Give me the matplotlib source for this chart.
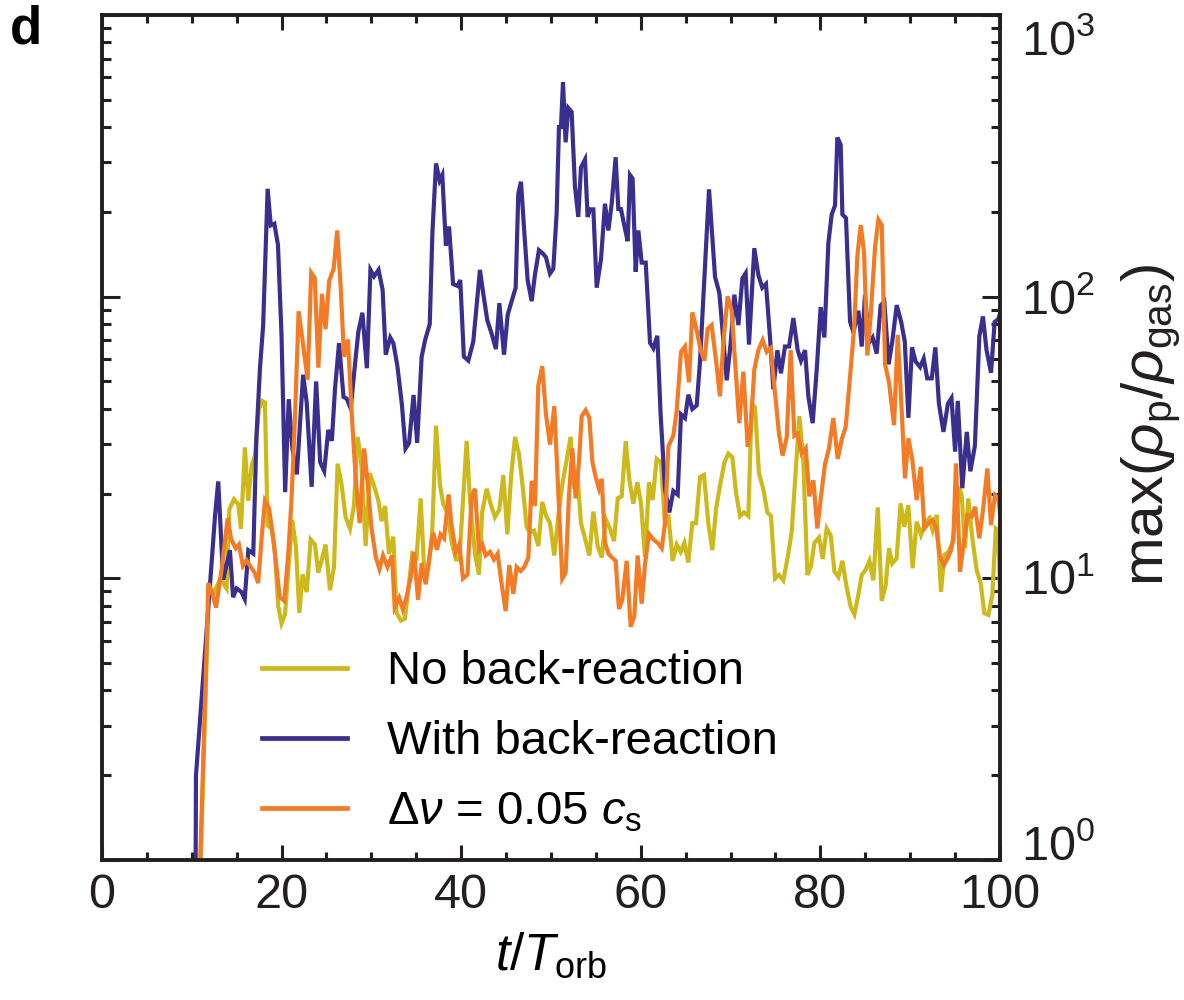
import numpy as np
import matplotlib.pyplot as plt
from matplotlib.ticker import MultipleLocator, LogLocator, NullFormatter

plt.rcParams['font.family'] = ['Liberation Sans', 'DejaVu Sans']
plt.rcParams['mathtext.fontset'] = 'custom'
plt.rcParams['mathtext.rm'] = 'Liberation Sans'
plt.rcParams['mathtext.it'] = 'Liberation Sans:italic'
plt.rcParams['mathtext.bf'] = 'Liberation Sans:bold'

# datos: tiempo (t/T_orb) y log10 de max(rho_p/rho_gas)
t_no_br = [10.9, 11.9, 12.5, 13.2, 13.62, 13.88, 14.18, 14.70, 15.18, 15.48, 15.92, 16.29, 16.67, 17.04,
           17.48, 17.85, 18.15, 18.45, 18.9, 19.27, 19.63, 20.0, 20.38, 20.75, 21.2, 21.6, 21.98, 22.35,
           22.8, 23.24, 23.72, 24.09, 24.46, 24.9, 25.39, 25.84, 26.24, 26.69, 27.13, 27.62, 28.06, 28.47,
           28.84, 29.36, 29.84, 30.33, 30.77, 31.14, 31.52, 31.96, 32.44, 32.81, 33.3, 33.74, 34.12, 34.56,
           35.04, 35.49, 35.9, 36.34, 36.78, 37.2, 37.64, 38.01, 38.49, 38.94, 39.42, 39.8, 40.24, 40.61,
           40.98, 41.54, 41.98, 42.35, 42.84, 43.28, 43.76, 44.25, 44.69, 45.14, 45.55, 46.0, 46.44, 46.92,
           47.29, 47.66, 48.11, 48.59, 49.03, 49.44, 49.89, 50.37, 50.82, 51.26, 51.74, 52.19, 52.6, 52.97,
           53.34, 53.79, 54.27, 54.72, 55.2, 55.65, 56.09, 56.57, 57.02, 57.43, 57.87, 58.32, 58.73, 59.17,
           59.62, 60.03, 60.47, 60.91, 61.32, 61.77, 62.25, 62.7, 63.07, 63.55, 64.0, 64.44, 64.85, 65.29,
           65.74, 66.15, 66.6, 67.04, 67.52, 67.97, 68.38, 68.82, 69.31, 69.75, 70.2, 70.61, 71.05, 71.49,
           71.98, 72.35, 72.72, 73.16, 73.65, 74.09, 74.5, 74.95, 75.39, 75.87, 76.36, 76.8, 77.25, 77.66,
           78.1, 78.55, 78.95, 79.33, 79.85, 80.26, 80.7, 81.15, 81.56, 82.0, 82.45, 82.93, 83.38, 83.79,
           84.23, 84.6, 85.05, 85.46, 85.9, 86.39, 86.83, 87.27, 87.64, 88.0, 88.49, 88.93, 89.34, 89.79,
           90.27, 90.72, 91.2, 91.65, 92.13, 92.5, 92.95, 93.43, 93.8, 94.25, 94.69, 95.06, 95.43, 95.73,
           96.1, 96.47, 96.92, 97.4, 97.85, 98.26, 98.71, 99.15, 99.53, 99.82, 100.0]
lg_no_br = [-0.10, 0.97, 0.95, 1.00, 0.977, 0.964, 1.244, 1.281, 1.263, 1.176, 1.465, 1.275, 1.400, 1.437,
            1.599, 1.630, 1.624, 1.188, 1.176, 1.088, 0.902, 0.840, 0.871, 1.026, 1.207, 1.113, 0.877, 1.014,
            0.951, 1.138, 1.120, 1.020, 1.064, 1.120, 0.958, 1.040, 1.407, 1.332, 1.217, 1.176, 1.257, 1.502,
            1.427, 1.115, 1.373, 1.325, 1.278, 1.203, 1.257, 1.087, 1.148, 0.877, 0.850, 0.857, 0.965, 1.087,
            1.074, 1.284, 1.020, 1.033, 1.169, 1.542, 1.332, 1.264, 1.230, 1.128, 1.067, 1.067, 1.298, 1.488,
            1.278, 1.087, 1.013, 1.237, 1.318, 1.264, 1.217, 1.244, 1.366, 1.156, 1.359, 1.502, 1.441, 1.305,
            1.182, 1.162, 1.169, 1.115, 1.271, 1.223, 1.196, 1.081, 1.223, 1.332, 1.420, 1.502, 1.318, 1.359,
            1.196, 1.142, 1.081, 1.237, 1.115, 1.074, 1.210, 1.177, 1.132, 1.284, 1.291, 1.487, 1.348, 1.265,
            1.341, 1.265, 1.075, 1.341, 1.278, 1.424, 1.411, 1.189, 1.227, 1.062, 1.120, 1.094, 1.126, 1.056,
            1.196, 1.196, 1.360, 1.367, 1.196, 1.100, 1.246, 1.329, 1.411, 1.443, 1.430, 1.303, 1.221, 1.234,
            1.221, 1.620, 1.608, 1.373, 1.316, 1.234, 1.221, 0.999, 1.012, 0.993, 1.075, 1.164, 1.379, 1.576,
            1.417, 1.012, 1.043, 1.126, 1.145, 1.069, 1.177, 1.152, 1.025, 1.005, 1.062, 0.967, 0.898, 0.872,
            0.942, 1.012, 1.031, 1.062, 0.993, 1.252, 0.920, 0.976, 1.107, 1.053, 1.071, 1.266, 1.183, 1.260,
            1.036, 1.201, 1.154, 1.195, 1.213, 1.171, 1.225, 0.952, 1.083, 1.094, 1.124, 1.207, 1.325, 1.296,
            1.107, 1.284, 1.142, 1.029, 0.982, 0.876, 0.870, 0.941, 1.177, 1.171, 0.929]

t_with_br = [10.4, 10.47, 12.6, 12.95, 13.5, 14.25, 14.6, 15.0, 15.55, 15.9, 16.3, 16.85, 17.2, 17.6,
             17.95, 18.45, 18.8, 19.2, 19.6, 20.0, 20.4, 20.8, 21.2, 21.7, 22.4, 22.8, 23.35, 23.85, 24.3,
             24.75, 25.2, 25.6, 25.95, 26.4, 26.9, 27.25, 27.7, 28.2, 28.55, 29.0, 29.5, 29.9, 30.3, 30.8,
             31.25, 31.6, 32.1, 32.45, 32.9, 33.4, 33.8, 34.2, 34.7, 35.1, 35.6, 36.0, 36.5, 36.8, 37.2,
             37.6, 37.9, 38.3, 38.65, 39.1, 39.6, 39.9, 40.3, 40.8, 41.35, 41.72, 42.09, 42.46, 42.91, 43.39,
             43.87, 44.25, 44.77, 45.18, 45.62, 46.07, 46.36, 46.66, 47.03, 47.4, 47.85, 48.22, 48.66, 49.07,
             49.44, 49.89, 50.26, 50.63, 50.89, 51.11, 51.34, 51.63, 51.93, 52.3, 52.67, 53.04, 53.34, 53.79,
             54.08, 54.34, 54.72, 55.09, 55.57, 56.01, 56.39, 56.76, 57.2, 57.5, 57.79, 58.24, 58.54, 58.8,
             59.09, 59.43, 59.73, 60.1, 60.55, 61.03, 61.4, 61.84, 62.21, 62.7, 63.18, 63.62, 64.11, 64.48,
             64.92, 65.3, 65.74, 66.23, 66.6, 67.08, 67.6, 68.27, 68.75, 69.57, 70.01, 70.42, 70.87, 71.31,
             71.68, 72.05, 72.64, 73.09, 73.53, 73.94, 74.39, 74.76, 75.21, 75.61, 76.06, 76.51, 76.99, 77.47,
             77.84, 78.29, 78.66, 79.14, 79.59, 80.03, 80.44, 80.89, 81.26, 81.63, 81.89, 82.26, 82.45, 82.85,
             83.3, 83.67, 84.23, 84.6, 84.97, 85.41, 85.82, 86.27, 86.71, 87.12, 87.6, 88.0, 88.5, 89.0, 89.4,
             89.8, 90.2, 90.6, 91.1, 91.5, 91.9, 92.4, 92.8, 93.2, 93.7, 94.2, 94.6, 95.0, 95.3, 95.8, 96.3,
             96.7, 97.2, 97.7, 98.1, 98.5, 99.0, 99.4, 99.8, 100.0]
lg_with_br = [-0.30, 0.30, 1.225, 1.344, 0.995, 1.10, 0.933, 0.964, 0.951, 0.927, 1.10, 1.088, 1.50, 1.748,
              1.898, 2.383, 2.253, 2.259, 2.184, 1.86, 1.306, 1.636, 1.462, 1.369, 1.723, 1.624, 1.325, 1.699,
              1.412, 1.381, 1.527, 1.488, 1.672, 1.835, 1.644, 1.638, 1.603, 1.767, 1.875, 1.943, 1.746, 2.095,
              2.072, 2.095, 2.025, 1.794, 1.855, 1.835, 1.753, 1.617, 1.461, 1.481, 1.651, 1.481, 1.787, 1.848,
              1.902, 2.229, 2.473, 2.412, 2.432, 2.181, 2.249, 2.045, 2.038, 2.059, 1.787, 1.773, 1.841, 1.970,
              2.095, 2.011, 1.916, 1.869, 1.814, 1.977, 1.794, 1.936, 1.984, 2.032, 2.365, 2.408, 2.229, 2.059,
              1.984, 2.079, 2.165, 2.154, 2.140, 2.082, 2.099, 2.296, 2.602, 2.602, 2.761, 2.548, 2.670, 2.656,
              2.392, 2.283, 2.459, 2.487, 2.283, 2.310, 2.310, 2.032, 2.133, 2.330, 2.235, 2.330, 2.495, 2.311,
              2.311, 2.241, 2.197, 2.432, 2.419, 2.089, 2.235, 2.121, 2.121, 1.836, 1.817, 1.861, 1.582, 1.316,
              1.234, 1.310, 1.297, 1.582, 1.569, 1.652, 1.601, 1.614, 1.773, 2.064, 2.381, 2.070, 2.013, 1.703,
              1.836, 2.007, 1.899, 2.064, 2.083, 1.830, 2.172, 2.077, 2.032, 2.045, 1.855, 1.671, 1.810, 1.728,
              1.823, 1.823, 1.924, 1.810, 1.773, 1.810, 1.646, 1.551, 1.741, 1.963, 1.855, 2.191, 2.292, 2.324,
              2.565, 2.540, 2.292, 2.279, 1.912, 1.874, 1.950, 1.823, 2.007, 1.836, 1.855, 1.798, 1.969, 1.982,
              1.76, 1.84, 1.97, 1.91, 1.84, 1.57, 1.82, 1.77, 1.75, 1.78, 1.71, 1.71, 1.82, 1.62, 1.52, 1.62,
              1.64, 1.45, 1.63, 1.32, 1.52, 1.38, 1.47, 1.86, 1.93, 1.81, 1.73, 1.91, 1.92, 1.94]

t_dv = [10.9, 11.65, 11.85, 12.3, 12.7, 13.3, 14.0, 14.4, 14.9, 15.25, 15.7, 16.1, 16.6, 17.0, 17.4, 17.8,
        18.15, 18.6, 19.1, 19.45, 19.8, 20.3, 20.75, 21.1, 21.5, 21.9, 22.4, 22.9, 23.3, 23.7, 24.1, 24.5,
        24.9, 25.3, 25.8, 26.2, 26.6, 26.95, 27.4, 27.8, 28.25, 28.7, 29.2, 29.6, 30.0, 30.5, 30.9, 31.3,
        31.8, 32.3, 32.6, 33.1, 33.5, 33.9, 34.4, 34.75, 35.2, 35.6, 36.05, 36.45, 36.9, 37.3, 37.7, 38.1,
        38.6, 38.9, 39.4, 39.8, 40.2, 40.7, 41.17, 41.54, 41.98, 42.35, 42.73, 43.21, 43.65, 44.06, 44.51,
        44.95, 45.36, 45.81, 46.18, 46.62, 47.03, 47.48, 47.85, 48.22, 48.59, 49.03, 49.44, 49.89, 50.37,
        50.82, 51.26, 51.63, 52.0, 52.38, 52.75, 53.12, 53.42, 53.86, 54.27, 54.61, 54.98, 55.35, 55.65,
        56.01, 56.39, 56.76, 57.2, 57.57, 57.94, 58.43, 58.87, 59.28, 59.65, 60.1, 60.47, 60.91, 61.4,
        61.88, 62.33, 62.7, 63.07, 63.62, 64.0, 64.48, 64.92, 65.37, 65.74, 66.23, 66.67, 67.08, 67.45,
        67.89, 68.38, 68.82, 69.19, 69.67, 70.12, 70.49, 70.97, 71.42, 71.9, 72.24, 72.64, 73.09, 73.57,
        74.02, 74.46, 74.95, 75.39, 75.8, 76.25, 76.69, 77.1, 77.47, 77.92, 78.37, 78.77, 79.22, 79.66,
        80.07, 80.51, 80.96, 81.44, 81.93, 82.37, 82.82, 83.3, 83.75, 84.12, 84.49, 84.86, 85.23, 85.61,
        86.09, 86.46, 86.83, 87.2, 87.64, 88.2, 88.61, 89.05, 89.42, 89.8, 90.24, 90.72, 91.17, 91.58,
        92.02, 92.47, 92.87, 93.32, 93.76, 94.17, 94.54, 94.8, 95.1, 95.55, 96.0, 96.4, 96.85, 97.22,
        97.7, 98.15, 98.59, 99.0, 99.45, 99.82, 100.0]
lg_dv = [-0.05, 0.75, 0.983, 0.945, 0.896, 1.026, 1.213, 1.138, 1.107, 1.120, 1.045, 1.064, 1.039, 1.020,
         0.983, 1.151, 1.275, 1.250, 1.138, 1.033, 0.933, 0.920, 1.088, 1.275, 1.574, 1.948, 1.829, 1.705,
         2.085, 2.066, 1.748, 2.010, 1.885, 2.056, 2.099, 2.235, 2.025, 1.787, 1.848, 1.590, 1.359, 1.196,
         1.461, 1.332, 1.182, 1.074, 1.033, 1.081, 1.040, 1.081, 0.897, 0.931, 0.890, 0.931, 1.006, 1.094,
         0.924, 1.054, 0.979, 1.074, 1.162, 1.101, 1.156, 1.142, 1.298, 1.196, 1.094, 1.121, 0.999, 1.013,
         1.291, 1.318, 1.101, 1.121, 1.081, 1.094, 1.067, 1.087, 0.979, 0.884, 1.047, 0.945, 1.040, 1.026,
         1.040, 1.074, 1.346, 1.257, 1.685, 1.753, 1.583, 1.475, 1.611, 1.305, 0.999, 1.020, 1.291, 1.461,
         1.284, 1.414, 1.576, 1.597, 1.570, 1.414, 1.359, 1.318, 1.353, 1.128, 1.088, 1.075, 1.062, 0.891,
         0.923, 1.062, 0.828, 0.866, 1.081, 0.910, 1.050, 1.158, 1.138, 1.126, 1.107, 1.196, 1.468, 1.506,
         1.595, 1.804, 1.823, 1.696, 1.944, 1.880, 1.810, 1.773, 1.886, 1.899, 1.773, 1.646, 1.836, 2.001,
         1.950, 1.773, 1.551, 1.734, 1.468, 1.531, 1.741, 1.810, 1.846, 1.804, 1.817, 1.658, 1.513, 1.436,
         1.500, 1.810, 1.506, 1.513, 1.443, 1.462, 1.291, 1.348, 1.177, 1.291, 1.405, 1.462, 1.569, 1.424,
         1.493, 1.538, 1.715, 1.886, 2.146, 2.254, 2.159, 1.791, 1.937, 2.178, 2.273, 2.254, 1.760, 1.696,
         1.544, 1.864, 1.597, 1.355, 1.497, 1.420, 1.278, 1.396, 1.177, 1.195, 1.207, 1.183, 1.077, 1.047,
         1.071, 1.100, 1.136, 1.408, 1.023, 1.136, 1.225, 1.219, 1.254, 1.142, 1.254, 1.390, 1.189, 1.296,
         1.284, 1.231]

labels = ['No back-reaction', 'With back-reaction', r'$\Delta\nu$ = 0.05 $c_{\rm s}$']
colores = ['#CDB91C', '#3A2F8F', '#F47B25']

# etiquetas del eje y (se dibujan a mano para que 10^3 y 10^0 no se salgan)
y_ticks = [1, 10, 100, 1000]
y_ticklabels = [r'$10^{0}$', r'$10^{1}$', r'$10^{2}$', r'$10^{3}$']
y_label_shift = [0, -17, -17, -40]  # desplazamiento de la línea base, en puntos de pantalla

fig = plt.figure(figsize=(11.84, 10), dpi=100)
ax = fig.add_axes([0.0861, 0.14, 0.7585, 0.845])

series = [(t_no_br, lg_no_br), (t_with_br, lg_with_br), (t_dv, lg_dv)]
for (t, lg), lab, c in zip(series, labels, colores):
    ax.plot(t, 10 ** np.array(lg), color=c, lw=3.0, label=lab, solid_joinstyle='miter')

ax.set_xlim(0, 100)
ax.set_yscale('log')
ax.set_ylim(1, 1000)

# ejes y ticks
ax.xaxis.set_major_locator(MultipleLocator(20))
ax.xaxis.set_minor_locator(MultipleLocator(5))
ax.yaxis.set_major_locator(LogLocator(base=10))
ax.yaxis.set_minor_locator(LogLocator(base=10, subs=np.arange(2, 10)))
ax.yaxis.set_minor_formatter(NullFormatter())

for s in ax.spines.values():
    s.set_linewidth(2.8)
    s.set_color('#231f20')
ax.tick_params(axis='both', which='both', direction='in', top=True, right=True, left=True,
               colors='#231f20', labelsize=35)
ax.tick_params(axis='x', which='major', length=11, width=2.2, pad=9)
ax.tick_params(axis='x', which='minor', length=6, width=2.2)
ax.tick_params(axis='y', which='major', length=13, width=2.2,
               labelleft=False, labelright=False)
ax.tick_params(axis='y', which='minor', length=6.5, width=2.2)

for v, txt, dy in zip(y_ticks, y_ticklabels, y_label_shift):
    ax.annotate(txt, xy=(1.0, v), xycoords=ax.get_yaxis_transform(),
                xytext=(15, dy * 0.72), textcoords='offset points',
                ha='left', va='baseline', fontsize=35, color='#231f20')

ax.set_xlabel(r'$t/T_{\rm orb}$', fontsize=37, labelpad=10)
fig.text(0.972, 0.575, r'max($\rho_{\rm p}/\rho_{\rm gas}$)', fontsize=42, rotation=90,
         ha='center', va='center', color='#231f20')

leg = ax.legend(loc='upper left', bbox_to_anchor=(0.178, 0.248), frameon=False, fontsize=34,
                handlelength=1.8, handletextpad=0.85, labelspacing=0.55, borderpad=0,
                borderaxespad=0)
for h in leg.get_lines():
    h.set_linewidth(3.4)

fig.text(0.008, 0.97, 'd', fontsize=38, fontweight='bold', va='center', ha='left')

fig.savefig('out.png', dpi=100)
